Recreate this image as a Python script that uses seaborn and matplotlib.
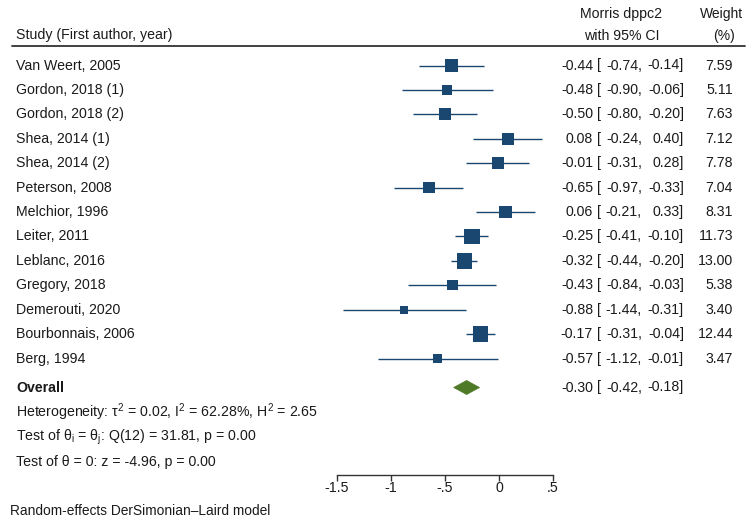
import matplotlib
matplotlib.use("Agg")
import matplotlib.pyplot as plt
import matplotlib.transforms as mtransforms
from matplotlib.patches import Polygon
import seaborn as sns
import pandas as pd
import numpy as np

sns.set_theme(style="white")
plt.rcParams['font.family'] = ['Liberation Sans', 'DejaVu Sans']

studies = ["Van Weert, 2005", "Gordon, 2018 (1)", "Gordon, 2018 (2)", "Shea, 2014 (1)",
           "Shea, 2014 (2)", "Peterson, 2008", "Melchior, 1996", "Leiter, 2011",
           "Leblanc, 2016", "Gregory, 2018", "Demerouti, 2020", "Bourbonnais, 2006",
           "Berg, 1994"]
estimate = [-0.44, -0.48, -0.50, 0.08, -0.01, -0.65, 0.06, -0.25, -0.32, -0.43, -0.88, -0.17, -0.57]
lower = [-0.74, -0.90, -0.80, -0.24, -0.31, -0.97, -0.21, -0.41, -0.44, -0.84, -1.44, -0.31, -1.12]
upper = [-0.14, -0.06, -0.20, 0.40, 0.28, -0.33, 0.33, -0.10, -0.20, -0.03, -0.31, -0.04, -0.01]
weight = [7.59, 5.11, 7.63, 7.12, 7.78, 7.04, 8.31, 11.73, 13.00, 5.38, 3.40, 12.44, 3.47]

overall_est = -0.30
overall_lo = -0.42
overall_hi = -0.18

xticks = [-1.5, -1, -0.5, 0, 0.5]
xticklabels = ["-1.5", "-1", "-.5", "0", ".5"]

W, H = 749, 523
fig = plt.figure(figsize=(W / 100, H / 100), dpi=100)

# pixel geometry
x0_px = 499.0      # pixel of effect 0
px_per_unit = 108.0
row0_px = 65.5
row_step = 24.42

ax = fig.add_axes([0, 0, 1, 1])
ax.set_xlim((0 - x0_px) / px_per_unit, (W - x0_px) / px_per_unit)
ax.set_ylim((H - row0_px) / row_step, -row0_px / row_step)
ax.axis("off")

def ypix(p):
    return (p - row0_px) / row_step

df = pd.DataFrame({"study": studies, "est": estimate, "lo": lower, "hi": upper,
                   "w": weight, "row": np.arange(len(studies))})

navy = "#1a476f"
green = "#4f7a28"

# CI lines
ax.hlines(df["row"], df["lo"], df["hi"], color=navy, lw=1.0, zorder=2)

# weighted squares (area proportional to weight)
k = (4.4 * 0.72) ** 2
wmin, wmax = min(weight), max(weight)
sns.scatterplot(data=df, x="est", y="row", size="w", sizes=(k * wmin, k * wmax),
                size_norm=(wmin, wmax), marker="s", color=navy, edgecolor=navy,
                linewidth=0, legend=False, ax=ax, zorder=3)

# overall diamond
yo = ypix(387.5)
half_h = 7.0 / row_step
ax.add_patch(Polygon([(overall_lo, yo), (overall_est, yo - half_h),
                      (overall_hi, yo), (overall_est, yo + half_h)],
                     closed=True, facecolor=green, edgecolor=green, lw=0.5, zorder=3))

# text helper
tr = mtransforms.blended_transform_factory(fig.transFigure, ax.transData)
fs = 10.2

def txt(xpx, ypos, s, ha="left", size=fs, **kw):
    ax.text(xpx / W, ypos, s, transform=tr, ha=ha, va="center", fontsize=size,
            color="#1a1a1a", **kw)

# headers
txt(16, ypix(35), "Study (First author, year)")
txt(621, ypix(14), "Morris dppc2", ha="center")
txt(622, ypix(36), "with 95% CI", ha="center")
txt(722, ypix(14), "Weight", ha="center", size=10)
txt(724, ypix(36), "(%)", ha="center", size=10)
ax.plot([12 / W, 745 / W], [ypix(45.5), ypix(45.5)], transform=tr, color="#333333", lw=1.3)

def ci_text(ypos, est, lo, hi):
    txt(593, ypos, f"{est:.2f}", ha="right")
    txt(597, ypos, "[", ha="left")
    txt(642, ypos, f"{lo:.2f},", ha="right")
    txt(684, ypos, f"{hi:.2f}]", ha="right")

# rows
for i, r in df.iterrows():
    txt(16, r["row"], r["study"])
    ci_text(r["row"], r["est"], r["lo"], r["hi"])
    txt(733, r["row"], f"{r['w']:.2f}", ha="right")

txt(16, yo, "Overall", fontweight="bold")
ci_text(yo, overall_est, overall_lo, overall_hi)

txt(16, ypix(412), r"Heterogeneity: τ$^{\mathregular{2}}$ = 0.02, I$^{\mathregular{2}}$ = 62.28%, H$^{\mathregular{2}}$ = 2.65")
txt(16, ypix(437), r"Test of θ$_{\mathregular{i}}$ = θ$_{\mathregular{j}}$: Q(12) = 31.81, p = 0.00")
txt(16, ypix(462), "Test of θ = 0: z = -4.96, p = 0.00")
txt(10, ypix(511), "Random-effects DerSimonian–Laird model", size=9.9)

# x axis
left_px = x0_px - 1.5 * px_per_unit
right_px = x0_px + 0.5 * px_per_unit
axis_y_px = 474.5
ax2 = fig.add_axes([left_px / W, (H - axis_y_px) / H, (right_px - left_px) / W, 0.0001])
ax2.set_facecolor("none")
ax2.set_xlim(-1.5, 0.5)
ax2.set_yticks([])
for s in ["top", "left", "right"]:
    ax2.spines[s].set_visible(False)
ax2.spines["bottom"].set_color("#333333")
ax2.spines["bottom"].set_linewidth(1.0)
ax2.set_xticks(xticks)
ax2.set_xticklabels(xticklabels, fontsize=fs, color="#1a1a1a")
ax2.tick_params(axis="x", direction="out", length=4, width=1.0, color="#333333",
                pad=1, bottom=True)

fig.savefig("out.png", dpi=100)
